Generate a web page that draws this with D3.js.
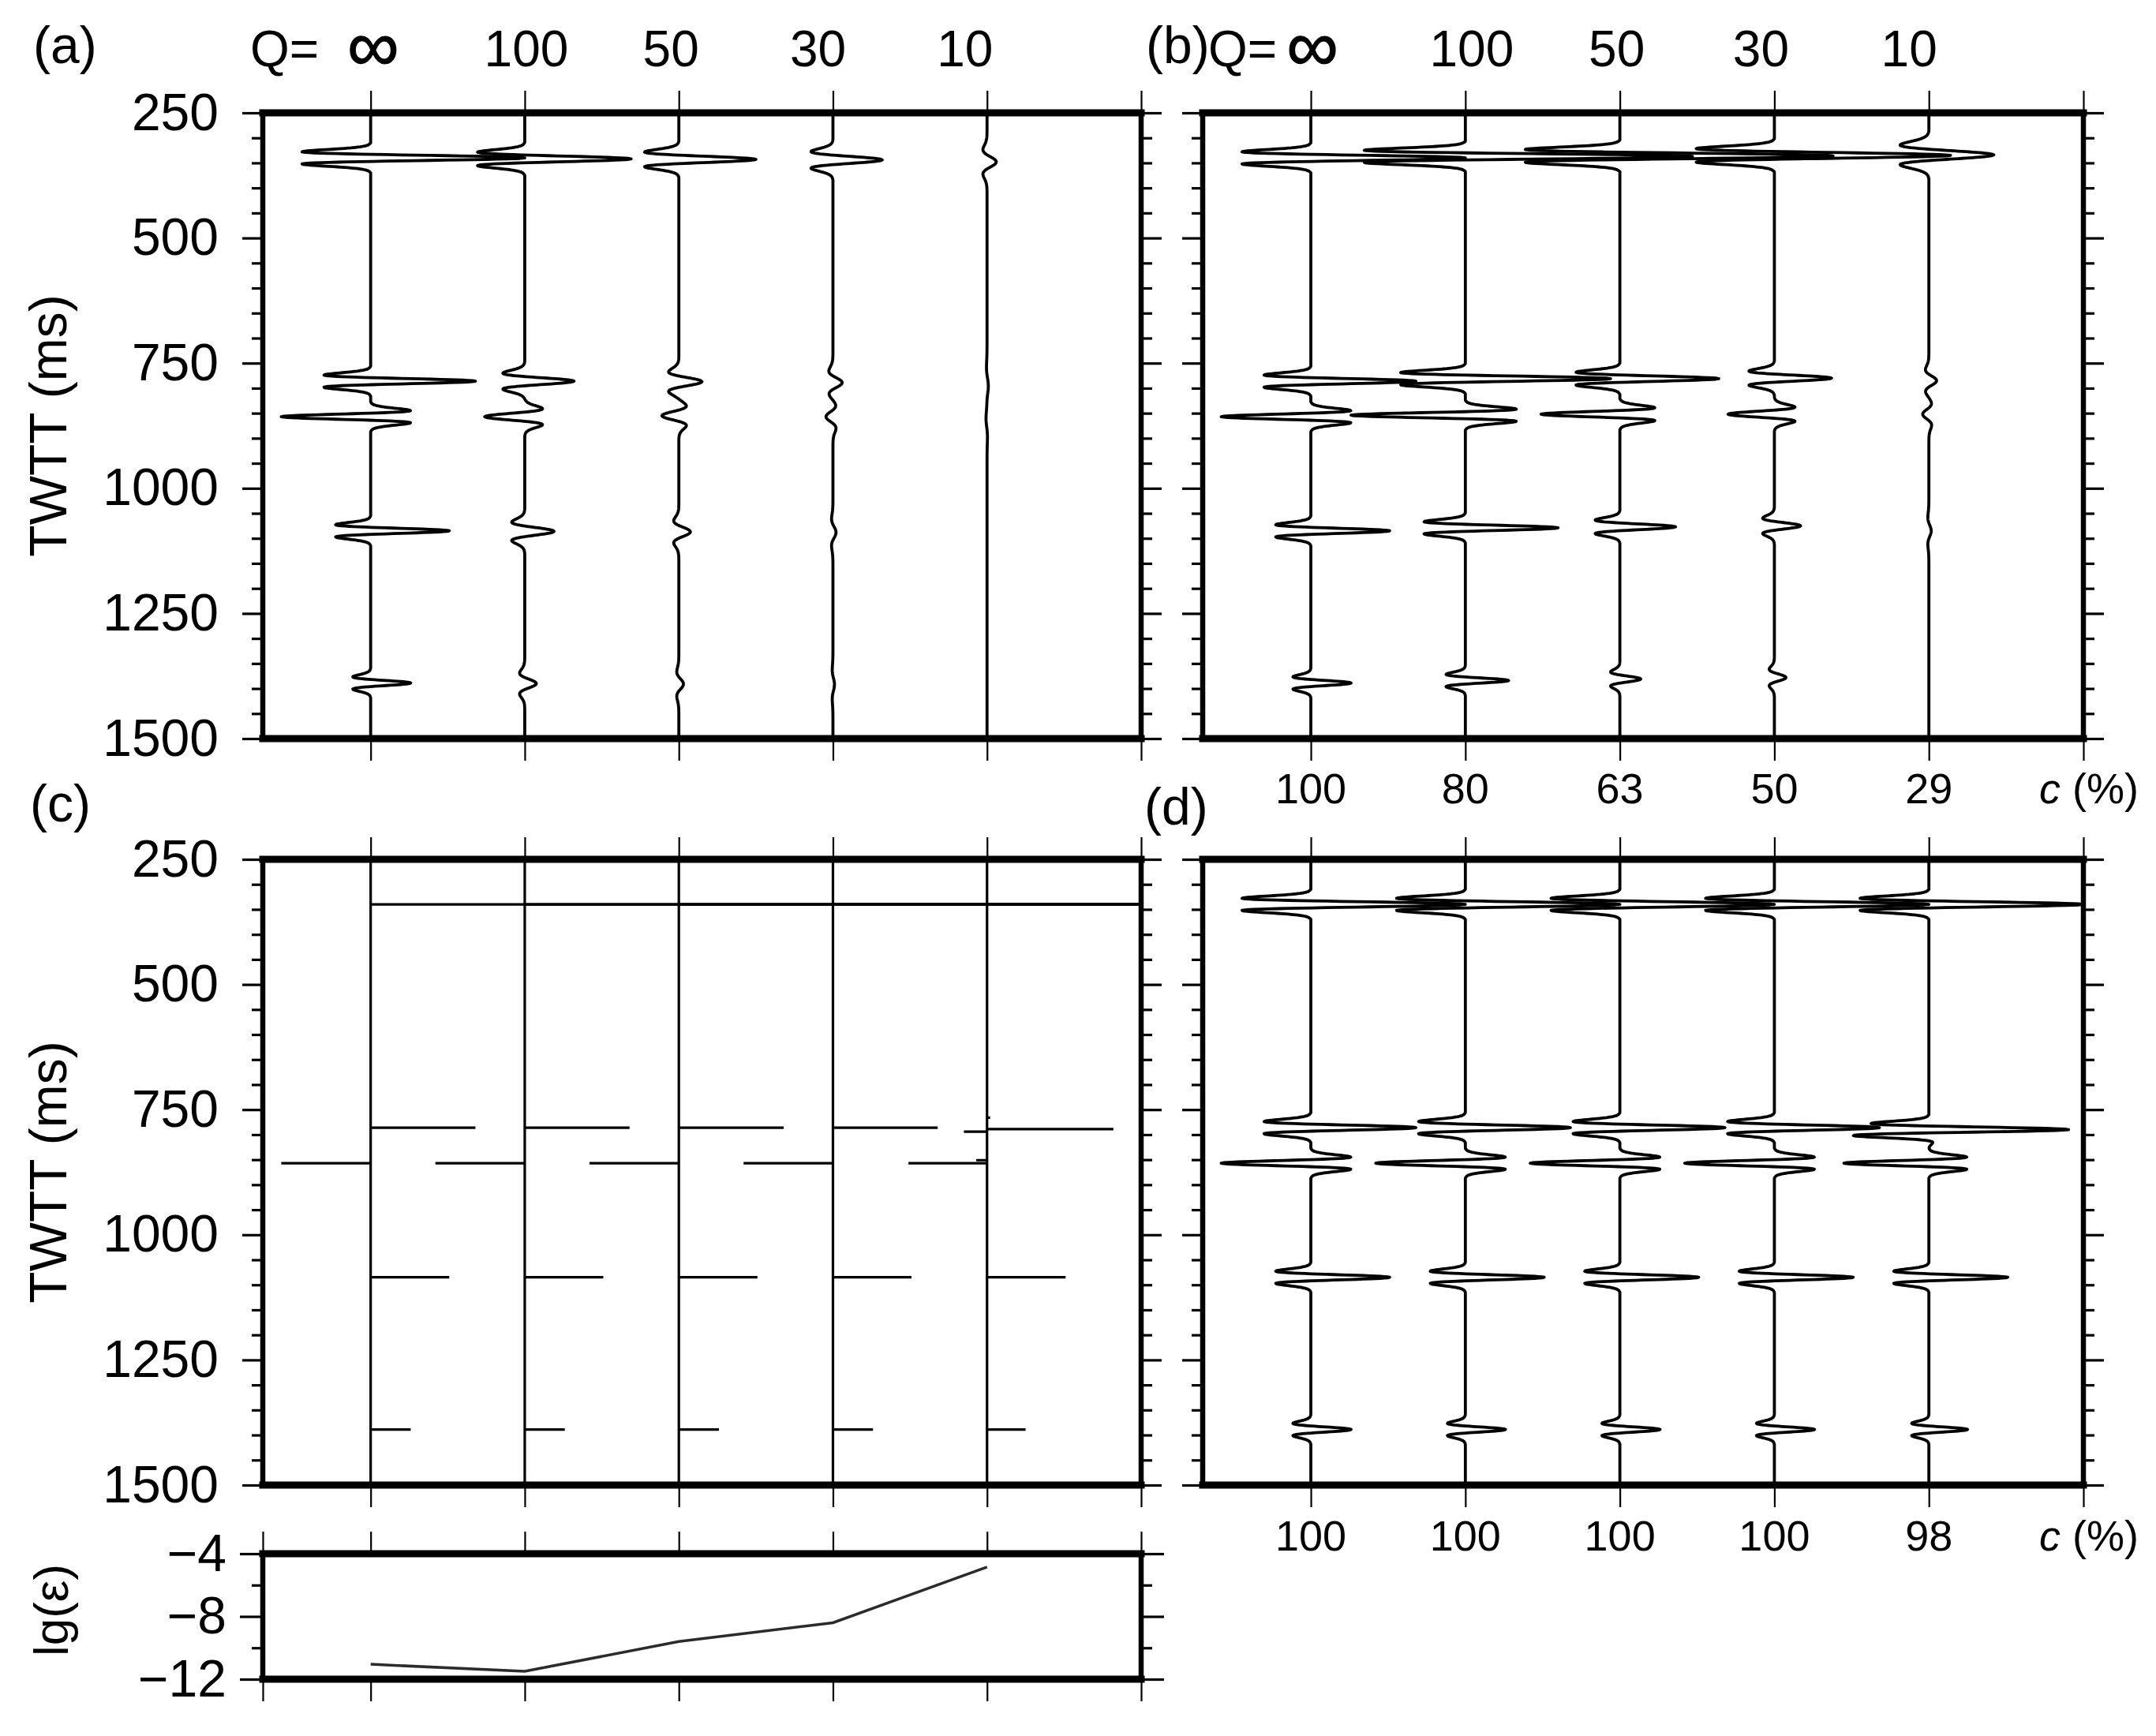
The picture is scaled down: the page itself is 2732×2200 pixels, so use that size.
<!DOCTYPE html>
<html><head><meta charset="utf-8">
<script src="https://cdn.jsdelivr.net/npm/d3@7"></script>
<style>body{margin:0;background:#fff} svg{display:block}</style>
</head><body><svg id="chart" width="2732" height="2200"></svg>
<script>
// ---------------- DATA ----------------
const traceIndex = [1, 2, 3, 4, 5];
const qLabels = ["∞", "100", "50", "30", "10"];
const cLabelsB = ["100", "80", "63", "50", "29"];
const cLabelsD = ["100", "100", "100", "100", "98"];
const timeMajorTicks = [250, 500, 750, 1000, 1250, 1500];
const timeMinorTicks = [300, 350, 400, 450, 550, 600, 650, 700, 800, 850, 900, 950, 1050, 1100, 1150, 1200, 1300, 1350, 1400, 1450];
const lgMajorTicks = [-4, -8, -12];
const lgMinorTicks = [-6, -10];
const lgEps = [-11.05, -11.5, -9.6, -8.4, -4.85];

// wavelet shape read from the Q = infinity trace (lag in units of width, normalised amplitude)
const waveletLag = [0, 0.1, 0.2, 0.3, 0.4, 0.5, 0.6, 0.7, 0.8, 0.9, 1.0, 1.1, 1.2, 1.3, 1.4, 1.5, 1.6, 1.7, 1.8, 1.9, 2.0, 2.2, 2.4, 2.6, 2.8, 3.0];
const waveletAmp = [1, 0.970, 0.884, 0.749, 0.580, 0.389, 0.195, 0.012, -0.148, -0.276, -0.368, -0.423, -0.445, -0.439, -0.411, -0.369, -0.319, -0.266, -0.215, -0.168, -0.128, -0.069, -0.033, -0.015, -0.006, 0];

// reflection events: [time ms, amplitude (trace spacings), width ms]
const eventsTrue = [[340, 1.00, 10], [786, 0.68, 10], [857, -0.58, 10], [1085, 0.51, 10], [1389, 0.26, 10]];
const eventsQ100 = [[342, 0.69, 11], [786, 0.32, 13], [857, -0.26, 13], [1086, 0.19, 15], [1390, 0.075, 17]];
const eventsQ50 = [[343, 0.50, 12], [787, 0.15, 16], [855, -0.11, 16], [1087, 0.075, 18], [1391, 0.03, 20]];
const eventsQ30 = [[344, 0.32, 13.5], [789, 0.06, 19], [857, -0.045, 19], [1088, 0.02, 22], [1392, 0.01, 24]];
const eventsQ10 = [[348, 0.06, 20], [795, 0.008, 30], [862, -0.006, 30]];

const eventsB80 = [[337, 1.47, 10], [781, 0.94, 10], [854, -0.74, 10], [1079, 0.60, 10], [1384, 0.28, 10]];
const eventsB63 = [[336, 1.38, 10.5], [781, 0.64, 10.5], [852, -0.51, 10.5], [1077, 0.36, 11], [1381, 0.135, 11.5]];
const eventsB50 = [[335, 1.14, 11], [780, 0.37, 11.5], [852, -0.30, 11.5], [1075, 0.17, 12.5], [1378, 0.075, 13.5]];
const eventsB29 = [[334, 0.42, 16], [785, 0.05, 18], [852, -0.04, 18], [1085, 0.015, 22]];

const eventsD98 = [[340, 1.00, 10], [790, 0.86, 10], [800, -0.12, 10], [857, -0.55, 10], [1085, 0.51, 10], [1389, 0.25, 10]];

// reflectivity spikes: [time ms, amplitude]
const spikesTrue = [[340, 5], [786, 0.68], [857, -0.58], [1085, 0.51], [1389, 0.26]];
const spikesQ10 = [[340, 5], [766, 0.02], [789, 0.82], [794, -0.15], [851, -0.07], [857, -0.51], [1085, 0.51], [1389, 0.25]];

const panelAData = [eventsTrue, eventsQ100, eventsQ50, eventsQ30, eventsQ10];
const panelBData = [eventsTrue, eventsB80, eventsB63, eventsB50, eventsB29];
const panelCData = [spikesTrue, spikesTrue, spikesTrue, spikesTrue, spikesQ10];
const panelDData = [eventsTrue, eventsTrue, eventsTrue, eventsTrue, eventsD98];

// ---------------- LAYOUT ----------------
const FONT = "'Liberation Sans', Arial, Helvetica, sans-serif";
const panels = {
  a: {x0: 333, x1: 1446, y0: 143, y1: 936},
  b: {x0: 1524, x1: 2640, y0: 143, y1: 936},
  c: {x0: 333, x1: 1446, y0: 1089, y1: 1882},
  d: {x0: 1524, x1: 2640, y0: 1089, y1: 1882},
  e: {x0: 333, x1: 1446, y0: 1969, y1: 2128}
};
const xDomain = [0.3, 6];
const xTickVals = [1, 2, 3, 4, 5, 6];
const headerNudgeA = [3, 2, -10, -19, -28];
const headerNudgeB = [2, 8, -4, -17, -25];

const svg = d3.select("#chart");
svg.append("rect").attr("width", 2732).attr("height", 2200).attr("fill", "#fff");

const fullLag = waveletLag.slice(1).map(v => -v).reverse().concat(waveletLag);
const fullAmp = waveletAmp.slice(1).reverse().concat(waveletAmp);
const wavelet = d3.scaleLinear().domain(fullLag).range(fullAmp).clamp(true);
const timeSamples = d3.range(250, 1500.25, 0.5);

function styleAxis(sel, w) {
  sel.select(".domain").remove();
  sel.selectAll(".tick line").attr("stroke", "#000").attr("stroke-width", w);
  sel.selectAll(".tick text").attr("font-family", FONT).attr("font-size", 66).attr("fill", "#000");
}

function makePanel(key, yDomain, majors, minors, opts) {
  const p = panels[key];
  const x = d3.scaleLinear().domain(xDomain).range([p.x0, p.x1]);
  const y = d3.scaleLinear().domain(yDomain).range([p.y0, p.y1]);
  const g = svg.append("g");
  const clipId = "clip-" + key;
  svg.append("clipPath").attr("id", clipId).append("rect")
    .attr("x", p.x0).attr("y", p.y0).attr("width", p.x1 - p.x0).attr("height", p.y1 - p.y0);
  const plot = g.append("g").attr("clip-path", `url(#${clipId})`);

  const xt = opts.edgeTick ? [xDomain[0]].concat(xTickVals) : xTickVals;
  g.append("g").attr("transform", `translate(0,${p.y0})`)
    .call(d3.axisTop(x).tickValues(xt).tickSize(28).tickFormat("")).call(styleAxis, 2.2);
  g.append("g").attr("transform", `translate(0,${p.y1})`)
    .call(d3.axisBottom(x).tickValues(xt).tickSize(28).tickFormat("")).call(styleAxis, 2.2);

  const lm = g.append("g").attr("transform", `translate(${p.x0},0)`)
    .call(d3.axisLeft(y).tickValues(majors).tickSize(opts.major).tickPadding(opts.pad)
      .tickFormat(opts.labels ? opts.fmt : ""));
  styleAxis(lm, 3.2);
  g.append("g").attr("transform", `translate(${p.x0},0)`)
    .call(d3.axisLeft(y).tickValues(minors).tickSize(14).tickFormat("")).call(styleAxis, 3.2);
  g.append("g").attr("transform", `translate(${p.x1},0)`)
    .call(d3.axisRight(y).tickValues(majors).tickSize(opts.major).tickFormat("")).call(styleAxis, 3.2);
  g.append("g").attr("transform", `translate(${p.x1},0)`)
    .call(d3.axisRight(y).tickValues(minors).tickSize(14).tickFormat("")).call(styleAxis, 3.2);

  return {x, y, g, plot, p};
}

function drawFrame(P) {
  const p = P.p;
  const f = svg.append("g").attr("stroke", "#000").attr("stroke-linecap", "square");
  f.append("line").attr("x1", p.x0).attr("x2", p.x0).attr("y1", p.y0).attr("y2", p.y1).attr("stroke-width", 6.5);
  f.append("line").attr("x1", p.x1).attr("x2", p.x1).attr("y1", p.y0).attr("y2", p.y1).attr("stroke-width", 6.5);
  f.append("line").attr("x1", p.x0).attr("x2", p.x1).attr("y1", p.y0).attr("y2", p.y0).attr("stroke-width", 9);
  f.append("line").attr("x1", p.x0).attr("x2", p.x1).attr("y1", p.y1).attr("y2", p.y1).attr("stroke-width", 9);
}

function drawWiggles(P, data) {
  const line = d3.line().curve(d3.curveLinear);
  data.forEach((events, i) => {
    const base = traceIndex[i];
    const pts = timeSamples.map(t => [P.x(base + d3.sum(events, e => e[1] * wavelet((t - e[0]) / e[2]))), P.y(t)]);
    P.plot.append("path").attr("d", line(pts)).attr("fill", "none")
      .attr("stroke", "#000").attr("stroke-width", 3.8).attr("stroke-linejoin", "round");
  });
}

function drawSpikes(P, data) {
  const line = d3.line();
  data.forEach((spikes, i) => {
    const base = traceIndex[i];
    const pts = [[P.x(base), P.y(250)]];
    spikes.forEach(s => {
      pts.push([P.x(base), P.y(s[0])], [P.x(base + s[1]), P.y(s[0])], [P.x(base), P.y(s[0])]);
    });
    pts.push([P.x(base), P.y(1500)]);
    P.plot.append("path").attr("d", line(pts)).attr("fill", "none")
      .attr("stroke", "#000").attr("stroke-width", 3.2);
  });
}

function text(x, y, str, size, anchor, extra) {
  const t = svg.append("text").attr("x", x).attr("y", y).attr("font-family", FONT)
    .attr("font-size", size).attr("text-anchor", anchor || "start").attr("fill", "#000").text(str);
  if (extra) extra(t);
  return t;
}

const timeOpts = (labels) => ({major: 26, pad: 30, labels: labels, fmt: d3.format("d")});

// ---------------- PANELS ----------------
const A = makePanel("a", [250, 1500], timeMajorTicks, timeMinorTicks, timeOpts(true));
const B = makePanel("b", [250, 1500], timeMajorTicks, timeMinorTicks, timeOpts(false));
const C = makePanel("c", [250, 1500], timeMajorTicks, timeMinorTicks, timeOpts(true));
const D = makePanel("d", [250, 1500], timeMajorTicks, timeMinorTicks, timeOpts(false));
const E = makePanel("e", [-4, -12], lgMajorTicks, lgMinorTicks,
  {major: 29, pad: 17, labels: true, fmt: d => "\u2212" + Math.abs(d), edgeTick: true});

drawWiggles(A, panelAData);
drawWiggles(B, panelBData);
drawSpikes(C, panelCData);
drawWiggles(D, panelDData);

E.plot.append("path")
  .attr("d", d3.line().x((d, i) => E.x(traceIndex[i])).y(d => E.y(d))(lgEps))
  .attr("fill", "none").attr("stroke", "#2b2b2b").attr("stroke-width", 3.5);

[A, B, C, D, E].forEach(drawFrame);

// ---------------- TEXT ----------------
text(42, 80, "(a)", 66);
text(1452, 80, "(b)", 66);
text(38, 1041, "(c)", 66);
text(1450, 1045, "(d)", 66);

function header(P, qx, nudges) {
  text(qx, 84, "Q=", 64);
  qLabels.forEach((q, i) => {
    const xx = P.x(traceIndex[i]) + nudges[i];
    if (q === "∞") text(xx, 90, q, 92, "middle", t => t.attr("stroke", "#000").attr("stroke-width", 1.2));
    else text(xx, 84, q, 64, "middle");
  });
}
header(A, 317, headerNudgeA);
header(B, 1531, headerNudgeB);

function cRow(P, labels, baseY) {
  labels.forEach((s, i) => text(P.x(traceIndex[i]), baseY, s, 54, "middle"));
  const t = text(2584, baseY, "", 54);
  t.append("tspan").attr("font-style", "italic").text("c");
  t.append("tspan").text(" (%)");
}
cRow(B, cLabelsB, 1018);
cRow(D, cLabelsD, 1965);

function yTitle(cx, cy, str, size) {
  text(0, 0, str, size, "middle", t => t.attr("transform", `translate(${cx},${cy}) rotate(-90)`));
}
yTitle(84, (panels.a.y0 + panels.a.y1) / 2, "TWTT (ms)", 66);
yTitle(84, (panels.c.y0 + panels.c.y1) / 2, "TWTT (ms)", 66);
yTitle(86, (panels.e.y0 + panels.e.y1) / 2 - 8, "lg(\u03B5)", 62);
</script>
</body></html>
